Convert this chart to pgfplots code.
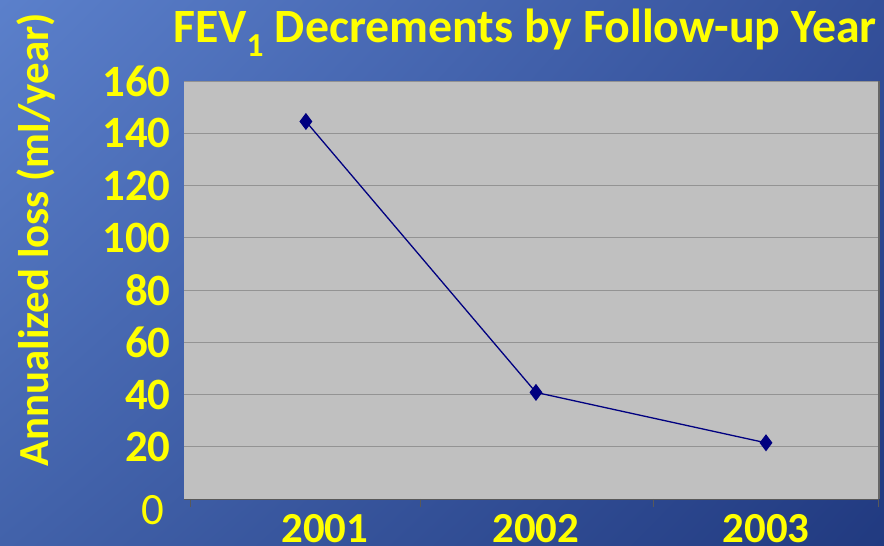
\documentclass[border=0pt]{standalone}
\usepackage{pgfplots}
\pgfplotsset{compat=1.18}
\usetikzlibrary{shadings}
\usepackage{fontspec}
\setmainfont{Carlito}
\definecolor{ul}{HTML}{5B80CB}
\definecolor{ur}{HTML}{34509A}
\definecolor{ll}{HTML}{4262AA}
\definecolor{lr}{HTML}{213A80}
\definecolor{yel}{HTML}{FFFF00}
\definecolor{plotgray}{HTML}{C0C0C0}
\definecolor{navy}{HTML}{000080}
\begin{document}
\begin{tikzpicture}[x=1bp,y=1bp]
\useasboundingbox (0,0) rectangle (884,546);
\clip (0,0) rectangle (884,546);
\shade[upper left=ul, upper right=ur, lower left=ll, lower right=lr] (0,0) rectangle (884,546);
\begin{axis}[
  at={(184bp,47bp)}, anchor=origin,
  scale only axis, width=694bp, height=418bp,
  xmin=0.470, xmax=3.487, ymin=0, ymax=160,
  axis background/.style={fill=plotgray},
  axis line style={draw=none},
  xtick={1,2,3}, xticklabels={{\hspace*{38bp}2001},2002,2003},
  ytick={0,20,...,160},
  yticklabels={{},20,40,60,80,100,120,140,160},
  /pgf/number format/assume math mode=true,
  ticklabel style={font=\fontsize{45}{45}\selectfont\bfseries, text=yel},
  xticklabel style={font=\fontsize{43}{43}\selectfont\bfseries, yshift=-12bp},
  major tick length=0pt,
  ymajorgrids, grid style={draw=gray!85, line width=0.8bp},
  yticklabel style={xshift=-10bp},
  clip=false,
]
\addplot[navy, line width=1.3bp, mark=diamond*, mark size=7.5bp, mark options={fill=navy}]
  coordinates {(1,144.5) (2,40.8) (3,21.5)};
\node[anchor=east, text=yel, font=\fontsize{45}{45}\selectfont, xshift=-20bp, yshift=-11bp, inner sep=0pt] at (axis cs:0.470,0) {0};
\end{axis}
% axis line and separator ticks
\draw[gray!70!black, line width=0.8bp] (184,47) -- (878,47);
\foreach \xx in {190,420,653,878} \draw[gray!70!black, line width=0.8bp] (\xx,47) -- (\xx,39);
\draw[black!60, line width=1.2bp] (879,47) -- (879,465);
\node[text=yel, font=\fontsize{48}{48}\selectfont\bfseries, anchor=base] at (525,503) {FEV\textsubscript{1} Decrements by Follow-up Year};
\node[text=yel, font=\fontsize{43}{43}\selectfont\bfseries, rotate=90] at (36,306) {Annualized loss (ml/year)};
\end{tikzpicture}
\end{document}
